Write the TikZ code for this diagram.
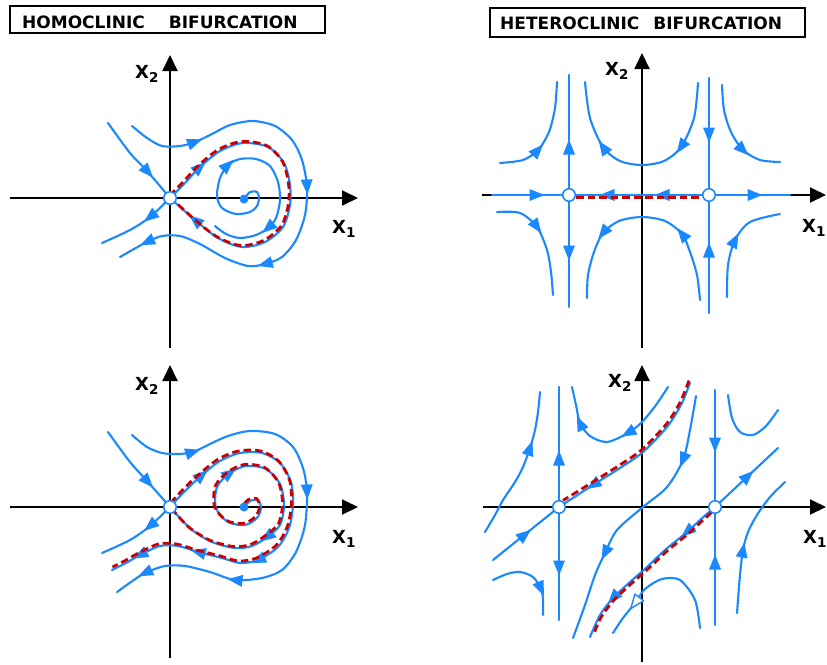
\documentclass[tikz,border=0pt]{standalone}
\usepackage{fontspec}
\setmainfont{DejaVu Sans}
\usetikzlibrary{arrows.meta,decorations.markings,calc}
\definecolor{flowc}{RGB}{26,136,255}
\definecolor{sepc}{RGB}{204,0,0}
\tikzset{
  flowarr/.style={decorate, decoration={markings, mark=at position 0.5 with {\fill[flowc] (7.5pt,0pt) -- (-7.5pt,6pt) -- (-7.5pt,-6pt) -- cycle;}}},
  flowarro/.style={decorate, decoration={markings, mark=at position 0.5 with {\draw[flowc, fill=white, line width=1.4pt, line join=round] (7pt,0pt) -- (-7pt,5.5pt) -- (-7pt,-5.5pt) -- cycle;}}},
}
% arrowhead centred at #2, pointing from #1 towards #3
\newcommand\fa[3]{\path[flowarr] ($(#2)+(#1)-(#3)$) -- ($(#2)+(#3)-(#1)$);}
\newcommand\fao[3]{\path[flowarro] ($(#2)+(#1)-(#3)$) -- ($(#2)+(#3)-(#1)$);}
\newcommand\axlab[3]{\node[anchor=base west, inner sep=0pt, font=\fontsize{18}{18}\selectfont\bfseries] (#1) at (#2) {X\raisebox{-4.5pt}{\fontsize{13.5}{13.5}\selectfont\bfseries #3}};}
\begin{document}
\begin{tikzpicture}[x=1pt,y=-1pt,
  flow/.style={draw=flowc, line width=2.1pt, line cap=round, line join=round},
  sep/.style={draw=sepc, line width=2.8pt, dash pattern=on 7.5pt off 4pt},
  axis/.style={line width=1.9pt, -{Triangle[length=16pt,width=15pt]}},
  saddle/.style={circle, draw=flowc, fill=white, line width=1.5pt, minimum size=12.5pt, inner sep=0pt},
  focus/.style={circle, fill=flowc, minimum size=9pt, inner sep=0pt},
  titlebox/.style={draw, line width=1.5pt, inner sep=0pt},
  titletext/.style={inner sep=0pt, font=\fontsize{17}{17}\selectfont\bfseries}]
\useasboundingbox (0,0) rectangle (827,664);

% ---------------- titles ----------------
\node[titlebox, minimum width=315pt, minimum height=27pt] (tb1) at (167.5,19.5) {};
\node[titletext, anchor=base west] (tt1) at (22,28.3) {HOMOCLINIC\hspace{24pt}BIFURCATION};
\node[titlebox, minimum width=315pt, minimum height=29pt] (tb2) at (647.5,22.5) {};
\node[titletext, anchor=base west] (tt2) at (500,29.5) {HETEROCLINIC\hspace{14pt}BIFURCATION};

% ---------------- axes ----------------
\draw[axis] (10,198) -- (358,198);
\draw[axis] (170,348) -- (170,55);
\draw[axis] (10,507) -- (358,507);
\draw[axis] (170,658) -- (170,365);
\draw[axis] (482,195) -- (826,195);
\draw[axis] (642,348) -- (642,53);
\draw[axis] (483,507) -- (826,507);
\draw[axis] (642,662) -- (642,365);

\axlab{x2a}{135,78}{2}
\axlab{x1a}{332,233}{1}
\axlab{x2b}{605,75}{2}
\axlab{x1b}{802,232}{1}
\axlab{x2c}{135,390}{2}
\axlab{x1c}{332,543}{1}
\axlab{x2d}{608,387}{2}
\axlab{x1d}{803,543}{1}

% ================= TOP LEFT: homoclinic orbit =================
\draw[flow] plot[smooth] coordinates {(108,123) (130,153) (148,172) (170,198)};
\fa{130,153}{148,172}{170,198}
\draw[flow] plot[smooth] coordinates {(170,198) (150,217) (130,230) (102,243)};
\fa{170,198}{150,217}{130,230}
\draw[flow] plot[smooth] coordinates {(132,126) (147,138) (162,146) (180,146) (195,142) (212,134) (230,125) (253,121) (275,126) (292,140) (302,160) (307,187) (305,215) (296,240) (282,257) (265,264) (248,266) (225,258) (200,244) (180,236) (162,236) (147,242) (134,249) (120,257)};
\fa{180,146}{195,142}{212,134}
\fa{302,160}{307,187}{305,215}
\fa{282,257}{265,264}{248,266}
\fa{162,236}{147,242}{134,249}
% homoclinic loop
\draw[flow] plot[smooth] coordinates {(170,198) (185,183) (200,167) (220,151) (243,143) (268,147) (284,163) (290,185) (290,205) (283,227) (265,242) (242,247) (218,238) (195,220) (170,198)};
\fa{185,183}{200,167}{220,151}
\fa{218,238}{195,220}{170,198}
\draw[sep, shift={(-1.5,-1.5)}] plot[smooth] coordinates {(171,197) (185,183) (200,167) (220,151) (243,143) (268,147) (284,163) (290,185) (290,205) (283,227) (265,242) (242,247) (218,238) (195,220) (172,199)};
% spiral
\draw[flow] plot[smooth] coordinates {(244,199) (250,192) (257,192) (259,198) (257,206) (250,212) (236,214) (222,208) (217,196) (220,178) (228,165) (240,159) (256,159) (270,166) (278,182) (280,200) (276,218) (268,228) (256,235) (240,238) (226,234) (215,226)};
\fa{220,178}{228,165}{240,159}
\fa{276,218}{268,228}{256,235}
\node[focus] (f1) at (244,199) {};
\node[saddle] (s1) at (170,198) {};

% ================= BOTTOM LEFT: broken loop =================
\draw[flow] plot[smooth] coordinates {(108,432) (130,462) (148,482) (170,507)};
\fa{130,462}{148,482}{170,507}
\draw[flow] plot[smooth] coordinates {(170,507) (150,526) (130,540) (102,553)};
\fa{170,507}{150,526}{130,540}
\draw[flow] plot[smooth] coordinates {(132,435) (147,447) (162,453) (178,454) (193,452) (210,444) (228,436) (250,431) (275,434) (293,447) (303,468) (307,492) (305,525) (296,552) (282,570) (262,578) (235,580) (210,572) (185,566) (165,566) (145,573) (131,582) (117,592)};
\fa{178,454}{193,452}{210,444}
\fa{303,468}{307,492}{305,525}
\fa{262,578}{235,580}{210,572}
\fa{165,566}{145,573}{131,582}
% unstable manifold
\draw[flow] plot[smooth] coordinates {(170,507) (186,490) (202,475) (220,461) (240,453) (262,453) (280,463) (291,482) (293,505) (289,528) (278,547) (258,560) (240,563) (222,558) (198,552) (178,546) (160,546) (140,555) (126,563) (112,570)};
\fa{186,490}{202,475}{220,461}
\fa{278,547}{258,560}{240,563}
\fa{222,558}{198,552}{178,546}
\fa{160,546}{140,555}{126,563}
\draw[sep, shift={(-1.5,-2)}] plot[smooth] coordinates {(172,505) (186,490) (202,475) (220,461) (240,453) (262,453) (280,463) (291,482) (293,505) (289,528) (278,547) (258,560) (240,563) (222,558) (198,552) (178,546) (160,546) (140,555) (126,563) (114,569)};
% stable manifold from the focus
\draw[flow] plot[smooth] coordinates {(244,507) (250,501) (258,500) (261,508) (257,518) (245,525) (228,522) (216,508) (217,487) (230,473) (246,466) (266,469) (280,484) (284,505) (280,525) (267,537) (252,546) (235,548) (212,542) (192,530) (180,518) (170,507)};
\fa{217,487}{230,473}{246,466}
\fa{280,525}{267,537}{252,546}
\draw[sep, shift={(-1.5,-1.5)}] plot[smooth] coordinates {(246,505) (250,501) (258,500) (261,508) (257,518) (245,525) (228,522) (216,508) (217,487) (230,473) (246,466) (266,469) (280,484) (284,505) (280,525) (267,537) (252,546) (235,548) (212,542) (192,530) (180,518) (172,509)};
\node[focus] (f2) at (244,507) {};
\node[saddle] (s2) at (170,507) {};

% ================= TOP RIGHT: heteroclinic connection =================
\draw[flow] (492,195) -- (790,195);
\fa{525,195}{537,195}{549,195}
\fa{619,195}{607,195}{595,195}
\fa{674,195}{662,195}{650,195}
\fa{743,195}{755,195}{767,195}
\draw[sep] (576,197.5) -- (703,197.5);
\draw[flow] (569,75) -- (569,307);
\fa{569,159}{569,147}{569,135}
\fa{569,241}{569,253}{569,265}
\draw[flow] (709,78) -- (709,313);
\fa{709,123}{709,135}{709,147}
\fa{709,262}{709,250}{709,238}
\draw[flow] plot[smooth] coordinates {(500,163) (523,160) (538,150) (549,132) (555,108) (557,82)};
\fa{523,160}{538,150}{549,132}
\draw[flow] plot[smooth] coordinates {(698,83) (694,118) (681,147) (664,161) (642,165) (620,161) (603,147) (590,118) (585,82)};
\fa{694,118}{681,147}{664,161}
\fa{620,161}{603,147}{590,118}
\draw[flow] plot[smooth] coordinates {(722,85) (724,110) (731,132) (743,150) (760,160) (780,162)};
\fa{731,132}{743,150}{760,160}
\draw[flow] plot[smooth] coordinates {(497,212) (520,213) (537,227) (547,250) (551,272) (553,295)};
\fa{520,213}{537,227}{547,250}
\draw[flow] plot[smooth] coordinates {(700,300) (697,275) (690,252) (682,234) (665,221) (642,217) (619,221) (603,233) (594,252) (588,275) (587,298)};
\fa{690,252}{682,234}{665,221}
\fa{619,221}{603,233}{594,252}
\draw[flow] plot[smooth] coordinates {(727,297) (728,265) (735,240) (750,222) (780,214)};
\fa{728,265}{735,240}{750,222}
\node[saddle] (s3) at (569,195) {};
\node[saddle] (s4) at (709,195) {};

% ================= BOTTOM RIGHT: broken connection =================
\draw[flow] (559,387) -- (559,620);
\fa{559,470}{559,458}{559,446}
\fa{559,556}{559,568}{559,580}
\draw[flow] (715,390) -- (715,625);
\fa{715,433}{715,445}{715,457}
\fa{715,574}{715,562}{715,550}
% stable manifold of left saddle
\draw[flow] (493,560) -- (559,507);
\fa{493,560}{525,534.5}{559,507}
\draw[flow] plot[smooth] coordinates {(690,383) (681,405) (667,427) (643,452) (620,468) (593,485) (559,507)};
\fa{620,468}{593,485}{559,507}
\draw[sep, shift={(-1,-2.5)}] plot[smooth] coordinates {(690,383) (681,405) (667,427) (643,452) (620,468) (593,485) (564,503)};
% unstable manifold of right saddle
\draw[flow] (715,507) -- (778,448);
\fa{715,507}{748,476}{778,448}
\draw[flow] plot[smooth] coordinates {(715,507) (700,520) (687,532) (665,550) (647,567) (630,582) (613,598) (600,615) (590,637)};
\fa{700,520}{687,532}{665,550}
\fa{630,582}{613,598}{600,615}
\draw[sep, shift={(1.5,1.5)}] plot[smooth] coordinates {(710,511) (700,520) (687,532) (665,550) (647,567) (630,582) (613,598) (600,615) (592,633)};
% other orbits
\draw[flow] plot[smooth] coordinates {(485,532) (495,515) (503,500) (515,482) (523,467) (530,448) (535,430) (538,412) (540,392)};
\fa{523,467}{530,448}{535,430}
\draw[flow] plot[smooth] coordinates {(493,580) (507,574) (520,572) (533,577) (541,589) (543,600) (543,615)};
\fa{533,577}{541,589}{543,600}
\draw[flow] plot[smooth] coordinates {(668,387) (656,405) (642,422) (628,433) (607,442) (590,436) (580,423) (576,405) (572,387)};
\fa{642,422}{628,433}{607,442}
\fa{590,436}{580,423}{576,405}
\draw[flow] plot[smooth] coordinates {(696,396) (690,430) (683,460) (667,487) (643,507) (617,530) (605,553) (595,575) (585,605) (573,638)};
\fa{690,430}{683,460}{667,487}
\fa{617,530}{605,553}{595,575}
\draw[flow] plot[smooth] coordinates {(728,395) (732,418) (740,432) (753,435) (766,426) (778,410)};
\draw[flow] plot[smooth] coordinates {(785,482) (770,497) (757,515) (748,532) (743,550) (740,575) (737,613)};
\fa{740,575}{743,550}{748,532}
\draw[flow] plot[smooth] coordinates {(700,628) (695,600) (680,580) (662,579) (645,589) (635,603) (623,618) (613,633)};
\fao{645,589}{635,603}{623,618}
\node[saddle] (s5) at (559,507) {};
\node[saddle] (s6) at (715,507) {};
\end{tikzpicture}
\end{document}
